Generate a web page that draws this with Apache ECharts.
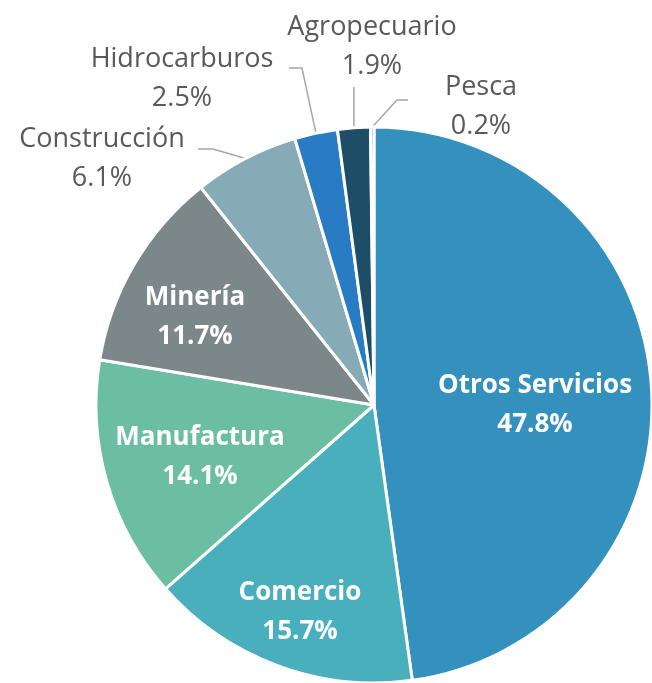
<!DOCTYPE html>
<html>
<head>
<meta charset="utf-8">
<script src="https://cdn.jsdelivr.net/npm/echarts@6/dist/echarts.min.js"></script>
<style>
  html, body { margin: 0; padding: 0; background: #fff; }
  #chart { width: 652px; height: 683px; }
</style>
</head>
<body>
<div id="chart"></div>
<script>
// data
const sectors = ["Otros Servicios", "Comercio", "Manufactura", "Minería", "Construcción", "Hidrocarburos", "Agropecuario", "Pesca"];
const shares = [47.8, 15.7, 14.1, 11.7, 6.1, 2.5, 1.9, 0.2];
const outsideLabels = ["Construcción", "Hidrocarburos", "Agropecuario", "Pesca"];

const colors = ["#3491be", "#4aafbd", "#6cbea3", "#7b8789", "#86aab6", "#297cc4", "#1e4d68", "#6fa8cf"];

// where each label sits (px)
const labelAt = {
  "Otros Servicios": [535, 405],
  "Comercio": [300, 612],
  "Manufactura": [200, 457],
  "Minería": [195, 317],
  "Construcción": [102, 159],
  "Hidrocarburos": [182, 79],
  "Agropecuario": [372, 47],
  "Pesca": [481, 107],
};
// leader line bends, null x = straight up from the slice
const leaderAt = {
  "Construcción": [[213, 149], [198, 149]],
  "Hidrocarburos": [[302, 68], [289, 68]],
  "Agropecuario": [[null, 100], [null, 87]],
  "Pesca": [[397, 100], [408, 100]],
};

const chart = echarts.init(document.getElementById("chart"));

const font = "'Open Sans', sans-serif";

const option = {
  animation: false,
  series: [
    {
      type: "pie",
      center: [374, 405],
      radius: 278,
      startAngle: 90,
      clockwise: true,
      avoidLabelOverlap: false,
      emphasis: { disabled: true },
      itemStyle: { borderColor: "#fff", borderWidth: 3 },
      labelLine: {
        lineStyle: { color: "#a6a6a6", width: 1.5 },
      },
      data: sectors.map((name, i) => {
        const out = outsideLabels.includes(name);
        return {
          name: name,
          value: shares[i],
          itemStyle: { color: colors[i] },
          label: out
            ? { position: "outside", color: "#595959", fontWeight: "normal", fontSize: 27 }
            : { position: "inside", color: "#fff", fontWeight: "bold", fontSize: 26 },
          labelLine: { show: out },
        };
      }),
      label: {
        fontFamily: font,
        lineHeight: 39,
        formatter: (p) => p.name + "\n" + p.value.toFixed(1) + "%",
      },
      labelLayout: (params) => {
        const name = sectors[params.dataIndex];
        const pos = labelAt[name];
        const res = { x: pos[0], y: pos[1], align: "center", verticalAlign: "middle" };
        const bends = leaderAt[name];
        if (bends && params.labelLinePoints) {
          const p0 = params.labelLinePoints[0];
          res.labelLinePoints = [p0].concat(
            bends.map((b) => [b[0] == null ? p0[0] : b[0], b[1]])
          );
        }
        return res;
      },
    },
  ],
};

chart.setOption(option);
</script>
</body>
</html>
